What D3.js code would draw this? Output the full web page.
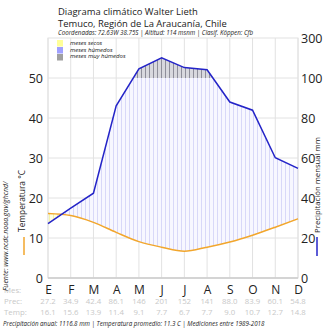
<!DOCTYPE html>
<html><head><meta charset="utf-8">
<script src="https://cdn.jsdelivr.net/npm/d3@7"></script>
<style>body{margin:0;background:#fff}svg{display:block;font-family:"Open Sans",sans-serif}</style>
</head><body><svg id="c" width="330" height="330"></svg>
<script>
const months = ["E","F","M","A","M","J","J","A","S","O","N","D"];
const precip = [27.2,34.9,42.4,86.1,146,201,152,141,88.0,83.9,60.1,54.8];
const temp = [16.1,15.6,13.9,11.4,9.1,7.7,6.7,7.7,9.0,10.7,12.7,14.8];
const tempTicks = [0,10,20,30,40,50];
const precTicks = [0,20,40,60,80,100,300];
const legendLabels = ["meses secos","meses húmedos","meses muy húmedos"];
const title1 = "Diagrama climático Walter Lieth";
const title2 = "Temuco, Región de La Araucanía, Chile";
const subtitle = "Coordenadas: 72.63W 38.75S | Altitud: 114 msnm | Clasif. Köppen: Cfb";
const footer = "Precipitación anual: 1116.8 mm | Temperatura promedio: 11.3 C | Mediciones entre 1989-2018";
const source = "Fuente: www.ncdc.noaa.gov/ghcnd/";

const svg = d3.select("#c");
const L=48,R=298,T=38,B=278;
const x = d3.scalePoint().domain(d3.range(12)).range([L,R]);
const yT = d3.scaleLinear().domain([0,60]).range([B,T]);
const yP = d3.scaleLinear().domain([0,100,300]).range([B,yT(50),T]);
const idx = d3.range(12);

function fit(sel,w){const n=sel.node();const fs=+sel.attr("font-size");const l=n.getComputedTextLength();if(l>0)sel.attr("font-size",fs*w/l);return sel;}

const defs = svg.append("defs");
function stripe(id,bg,fg){
  const p=defs.append("pattern").attr("id",id).attr("patternUnits","userSpaceOnUse").attr("width",4).attr("height",4);
  p.append("rect").attr("width",4).attr("height",4).attr("fill",bg);
  p.append("rect").attr("x",1).attr("width",1).attr("height",4).attr("fill",fg);
}
stripe("hum","#f7f7ff","#d8d8f8");
stripe("vhum","#d8d8de","#8e8e9a");
stripe("dry","#ffffe4","#f4f4a8");

const tCurve = d3.curveMonotoneX;
const precTop = d3.area().x(i=>x(i)).y0(T-5).y1(i=>yP(precip[i]));
const precBot = d3.area().x(i=>x(i)).y0(B).y1(i=>yP(precip[i]));
const tempTop = d3.area().x(i=>x(i)).y0(T-5).y1(i=>yT(temp[i])).curve(tCurve);
const tempBot = d3.area().x(i=>x(i)).y0(B).y1(i=>yT(temp[i])).curve(tCurve);
function clip(id,d){defs.append("clipPath").attr("id",id).append("path").attr("d",d(idx));}
clip("cPB",precBot);clip("cPT",precTop);clip("cTT",tempTop);clip("cTB",tempBot);
defs.append("clipPath").attr("id","cLow").append("rect").attr("x",L).attr("y",yP(100)).attr("width",R-L).attr("height",B-yP(100));
defs.append("clipPath").attr("id","cHigh").append("rect").attr("x",L).attr("y",T).attr("width",R-L).attr("height",yP(100)-T);

// grid
const grid = svg.append("g");
grid.selectAll(".h").data(tempTicks).join("line").attr("x1",L).attr("x2",R)
  .attr("y1",d=>yT(d)).attr("y2",d=>yT(d)).attr("stroke","#e2e2e2").attr("stroke-width",1);
grid.selectAll(".v").data(idx).join("line").attr("y1",T).attr("y2",B)
  .attr("x1",i=>x(i)).attr("x2",i=>x(i)).attr("stroke","#e2e2e2");

// fills
svg.append("g").attr("clip-path","url(#cPB)").append("g").attr("clip-path","url(#cTT)").append("g").attr("clip-path","url(#cLow)")
  .append("rect").attr("x",L).attr("y",T).attr("width",R-L).attr("height",B-T).attr("fill","url(#hum)");
svg.append("g").attr("clip-path","url(#cPB)").append("g").attr("clip-path","url(#cHigh)")
  .append("rect").attr("x",L).attr("y",T).attr("width",R-L).attr("height",B-T).attr("fill","url(#vhum)");
svg.append("g").attr("clip-path","url(#cPT)").append("g").attr("clip-path","url(#cTB)")
  .append("rect").attr("x",L).attr("y",T).attr("width",R-L).attr("height",B-T).attr("fill","url(#dry)");

// frame
svg.append("rect").attr("x",L).attr("y",T).attr("width",R-L).attr("height",B-T).attr("fill","none").attr("stroke","#e2e2e2");
svg.append("line").attr("x1",L).attr("x2",R).attr("y1",B).attr("y2",B).attr("stroke","#cccccc").attr("stroke-width",1.5);

// lines
svg.append("path").datum(idx).attr("fill","none").attr("stroke","#f2a62c").attr("stroke-width",1.5)
  .attr("d",d3.line().x(i=>x(i)).y(i=>yT(temp[i])).curve(tCurve));
svg.append("path").datum(idx).attr("fill","none").attr("stroke","#2424c8").attr("stroke-width",1.5)
  .attr("d",d3.line().x(i=>x(i)).y(i=>yP(precip[i])));

// axes
const axL = svg.append("g").attr("transform",`translate(${L-5},0)`)
  .call(d3.axisLeft(yT).tickValues(tempTicks).tickSize(0).tickPadding(0));
const axR = svg.append("g").attr("transform",`translate(${R+3},0)`)
  .call(d3.axisRight(yP).tickValues(precTicks).tickSize(0).tickPadding(0));
[axL,axR].forEach(a=>{a.select(".domain").remove();a.selectAll("text").attr("font-size",12.5).attr("fill","#222").attr("font-family","Open Sans").attr("dy","0.35em");});
const axB = svg.append("g").attr("transform",`translate(0,${B})`)
  .call(d3.axisBottom(x).tickFormat(i=>months[i]).tickSize(0).tickPadding(7));
axB.select(".domain").remove();
axB.selectAll("text").attr("font-size",12).attr("fill","#222").attr("font-family","Open Sans");

// table rows
const tbl = svg.append("g").attr("font-size",7.8).attr("fill","#c8c8c8");
tbl.append("text").attr("x",4).attr("y",293).text("Mes:");
tbl.append("text").attr("x",4).attr("y",304).text("Prec:");
tbl.append("text").attr("x",4).attr("y",315).text("Temp:");
tbl.selectAll(".p").data(idx).join("text").attr("x",i=>x(i)).attr("y",304).attr("text-anchor","middle").text(i=>precip[i] >= 100 ? d3.format(".0f")(precip[i]) : d3.format(".1f")(precip[i]));
tbl.selectAll(".t").data(idx).join("text").attr("x",i=>x(i)).attr("y",315).attr("text-anchor","middle").text(i=>d3.format(".1f")(temp[i]));

fit(svg.append("text").attr("x",3).attr("y",326).attr("font-size",6.6).attr("font-style","italic").attr("fill","#222").text(footer),262);

// titles
fit(svg.append("text").attr("x",58).attr("y",15).attr("font-size",10).attr("fill","#222").text(title1),140);
fit(svg.append("text").attr("x",58).attr("y",26.5).attr("font-size",10).attr("fill","#222").text(title2),169);
fit(svg.append("text").attr("x",58).attr("y",35).attr("font-size",6.4).attr("font-style","italic").attr("fill","#222").text(subtitle),195);

// legend
const legCols = ["#ffff99","#a0a0ff","#a0a0a0"];
const lg = svg.append("g");
lg.selectAll("rect").data(legendLabels).join("rect").attr("x",57).attr("y",(d,i)=>40+i*7).attr("width",6).attr("height",6.5).attr("fill",(d,i)=>legCols[i]);
lg.selectAll("text").data(legendLabels).join("text").attr("x",70).attr("y",(d,i)=>45+i*6.5).attr("font-size",6).attr("font-style","italic").attr("fill","#222").text(d=>d);

// axis titles
fit(svg.append("text").attr("transform","translate(25,201) rotate(-90)").attr("text-anchor","middle").attr("font-size",9).attr("fill","#222").text("Temperatura °C"),62);
svg.append("line").attr("x1",24).attr("x2",24).attr("y1",237).attr("y2",255).attr("stroke","#f2a62c").attr("stroke-width",1.5);
fit(svg.append("text").attr("transform","translate(320,185) rotate(-90)").attr("text-anchor","middle").attr("font-size",9).attr("fill","#222").text("Precipitación mensual mm"),96);
svg.append("line").attr("x1",317).attr("x2",317).attr("y1",237).attr("y2",256).attr("stroke","#2424c8").attr("stroke-width",1.5);
svg.append("text").attr("transform","translate(8,291) rotate(-90)").attr("font-size",7).attr("font-style","italic").attr("fill","#222").text(source);
</script></body></html>
